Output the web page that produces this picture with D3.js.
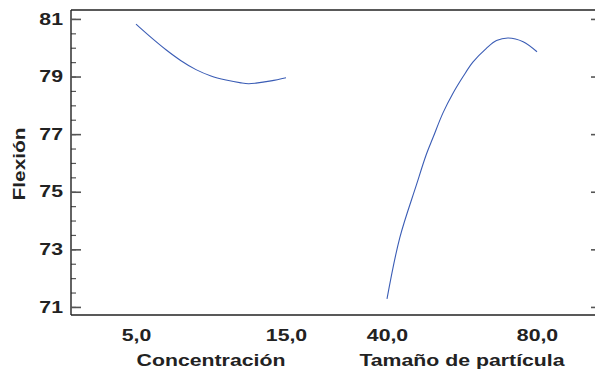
<!DOCTYPE html>
<html>
<head>
<meta charset="utf-8">
<script src="https://cdn.jsdelivr.net/npm/d3@7"></script>
<style>
  html, body { margin: 0; padding: 0; background: #fff; }
  svg { display: block; }
  text { font-family: "Liberation Sans", Arial, Helvetica, sans-serif; font-weight: bold; fill: #222; }
</style>
</head>
<body>
<svg id="chart" width="595" height="376"></svg>
<script>
// Main effects for Flexión
const factors = ["Concentración", "Tamaño de partícula"];
const factorLevels = [[5, 15], [40, 80]];

const concentration = [5, 6, 7, 8, 9, 10, 11, 12, 12.5, 13, 14, 15];
const flexionByConcentration = [80.82, 80.36, 79.93, 79.55, 79.24, 79.02, 78.88, 78.78, 78.75, 78.77, 78.85, 78.96];

const particleSize = [40, 43.4, 47.8, 50.5, 52.3, 54.9, 57.6, 60.3, 62.9, 66.5, 69.2, 72.3, 76.3, 80];
const flexionByParticle = [71.28, 73.4, 75.22, 76.3, 76.89, 77.73, 78.42, 79.0, 79.5, 79.98, 80.25, 80.34, 80.21, 79.86];

const yMajorTicks = [71, 73, 75, 77, 79, 81];
const yMinorTicks = d3.range(71, 81.01, 0.5);

const W = 595, H = 376;
const frame = { left: 71, top: 10, bottom: 315, right: 600 };
const stretch = 1.33;

const svg = d3.select("#chart");

const y = d3.scaleLinear().domain([70.72, 81.31]).range([frame.bottom, frame.top]);

const band = d3.scaleBand().domain(factors).range([136, 537])
  .paddingInner(101 / 251).paddingOuter(0);

const xScales = factors.map((f, i) =>
  d3.scaleLinear().domain(factorLevels[i]).range([band(f), band(f) + band.bandwidth()]));

const fmt = d3.formatLocale({ decimal: ",", thousands: ".", grouping: [3], currency: ["", ""] }).format(".1f");

// frame lines
svg.append("line").attr("x1", frame.left).attr("x2", W).attr("y1", frame.top).attr("y2", frame.top)
  .attr("stroke", "#222").attr("stroke-width", 1.4);
svg.append("line").attr("x1", frame.left).attr("x2", W).attr("y1", frame.bottom).attr("y2", frame.bottom)
  .attr("stroke", "#222").attr("stroke-width", 1.4);

// left axis: major ticks with labels, minor ticks inward
const yMinor = svg.append("g").attr("transform", `translate(${frame.left},0)`)
  .call(d3.axisLeft(y).tickValues(yMinorTicks).tickSize(-5).tickFormat(""));
yMinor.select(".domain").remove();
yMinor.selectAll(".tick line").attr("stroke", "#555").attr("stroke-width", 1.2);

const yAxis = svg.append("g").attr("transform", `translate(${frame.left},0)`)
  .call(d3.axisLeft(y).tickValues(yMajorTicks).tickSize(-10).tickPadding(8).tickFormat(d3.format("d")));
yAxis.select(".domain").attr("d", `M0,${frame.top}V${frame.bottom}`).attr("stroke", "#222").attr("stroke-width", 1.4);
yAxis.selectAll(".tick line").attr("stroke", "#555").attr("stroke-width", 1.6);
yAxis.selectAll(".tick text")
  .attr("font-size", 16).attr("font-family", null).attr("fill", "#222")
  .attr("x", -8 / stretch).attr("transform", `scale(${stretch},1)`);

// right axis ticks
const yRight = svg.append("g").attr("transform", `translate(${frame.right},0)`)
  .call(d3.axisLeft(y).tickValues(yMajorTicks).tickSize(9).tickFormat(""));
yRight.select(".domain").remove();
yRight.selectAll(".tick line").attr("stroke", "#555").attr("stroke-width", 1.6);

// x axes: low / high level labels for each factor
factors.forEach((f, i) => {
  const g = svg.append("g").attr("transform", `translate(0,${frame.bottom})`)
    .call(d3.axisBottom(xScales[i]).tickValues(factorLevels[i]).tickSize(0).tickPadding(15).tickFormat(fmt));
  g.select(".domain").remove();
  g.selectAll(".tick text")
    .attr("font-size", 16).attr("font-family", null).attr("fill", "#222")
    .attr("transform", `scale(${stretch},1)`);
  const cx = band(f) + band.bandwidth() / 2;
  svg.append("text")
    .attr("transform", `translate(${cx},366) scale(${stretch},1)`)
    .attr("text-anchor", "middle").attr("font-size", 16)
    .text(f);
});

// y axis title
svg.append("text")
  .attr("transform", `translate(25,164) rotate(-90) scale(${stretch - 0.03},1)`)
  .attr("text-anchor", "middle").attr("font-size", 16)
  .text("Flexión");

// effect curves
const line = d3.line().curve(d3.curveCatmullRom.alpha(0.5));
const series = [
  { x: concentration, v: flexionByConcentration },
  { x: particleSize, v: flexionByParticle }
];
series.forEach((s, i) => {
  const pts = s.x.map((xv, k) => [xScales[i](xv), y(s.v[k])]);
  svg.append("path").attr("d", line(pts))
    .attr("fill", "none").attr("stroke", "#3a5cb5").attr("stroke-width", 1.1);
});
</script>
</body>
</html>
